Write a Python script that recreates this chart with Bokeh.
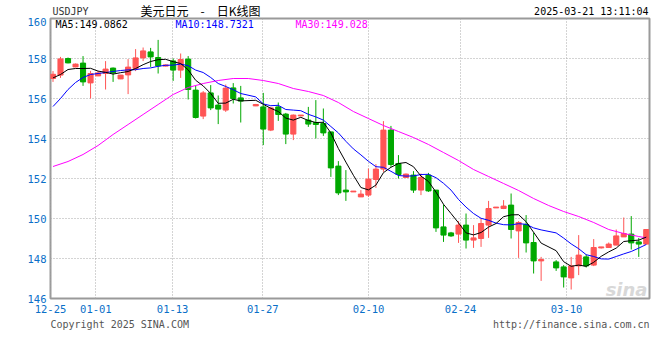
from bokeh.plotting import figure
from bokeh.layouts import column
from bokeh.models import FixedTicker, Label, ColumnDataSource, Range1d
from bokeh.embed import file_html
from bokeh.resources import INLINE

# ---- data ----
slots = [0, 1, 2, 3, 4, 5, 6, 7, 8, 9, 10, 11, 12, 13, 14, 15, 16, 17, 18, 19,
         20, 21, 22, 23, 24, 25, 27, 28, 29, 30, 31, 32, 33, 34, 35, 36, 37, 38,
         39, 40, 41, 42, 43, 44, 45, 46, 47, 48, 49, 50, 51, 52, 53, 54, 55, 56,
         57, 58, 59, 60, 61, 62, 63, 64, 65, 67, 68, 69, 70, 71, 72, 73, 74, 75,
         76, 77, 78, 79]
opens = [157.00, 157.17, 158.00, 157.58, 157.77, 156.78, 157.13, 157.25, 157.52, 156.98,
         157.18, 157.50, 158.03, 158.33, 158.05, 157.62, 157.88, 157.42, 157.97, 156.42,
         155.12, 156.28, 155.67, 155.42, 156.53, 156.03, 155.63, 155.58, 154.42, 155.58,
         155.22, 154.22, 155.13, 154.92, 154.80, 154.75, 154.33, 152.62, 151.42, 151.33,
         151.08, 151.17, 151.95, 152.47, 154.42, 152.75, 152.05, 152.17, 151.42, 152.17,
         151.42, 149.58, 149.28, 149.22, 149.67, 148.92, 149.00, 149.67, 150.53, 150.50,
         150.67, 149.38, 149.70, 148.80, 147.88, 147.83, 147.58, 147.03, 147.63, 148.08,
         147.67, 148.53, 148.55, 148.67, 149.08, 149.22, 148.83, 148.72]
highs = [157.37, 158.08, 158.05, 157.75, 158.12, 157.38, 157.38, 157.87, 157.55, 157.18,
         157.97, 158.47, 158.55, 158.53, 158.93, 157.70, 158.00, 158.25, 158.12, 156.63,
         156.37, 156.67, 156.15, 156.70, 156.77, 156.63, 155.73, 156.28, 155.58, 155.80,
         155.28, 155.20, 155.17, 155.58, 155.92, 155.50, 154.33, 152.87, 152.42, 151.37,
         151.42, 152.50, 152.72, 154.87, 154.63, 153.17, 152.25, 152.37, 152.25, 152.28,
         151.42, 150.70, 149.33, 149.87, 150.25, 149.67, 150.00, 150.88, 150.57, 150.92,
         151.25, 149.87, 150.17, 149.30, 148.08, 147.92, 147.67, 148.08, 149.17, 148.20,
         148.97, 148.58, 148.80, 149.45, 150.05, 150.12, 149.03, 149.45]
lows = [156.83, 157.03, 157.76, 157.56, 156.63, 156.00, 157.12, 156.45, 156.83, 156.97,
        156.22, 157.37, 157.87, 157.58, 157.25, 157.60, 156.88, 157.03, 155.95, 155.00,
        154.97, 155.42, 154.72, 155.33, 155.75, 154.80, 155.62, 153.67, 154.37, 154.88,
        153.72, 153.92, 155.13, 154.58, 154.00, 154.13, 152.08, 151.17, 150.88, 151.33,
        151.08, 151.08, 151.53, 152.33, 152.58, 152.00, 152.05, 151.28, 151.17, 151.33,
        149.33, 148.83, 149.08, 148.78, 148.50, 148.53, 148.58, 149.03, 150.53, 150.47,
        149.00, 148.03, 148.30, 147.25, 146.88, 147.38, 146.55, 146.45, 147.17, 147.55,
        147.62, 148.50, 148.55, 148.67, 149.08, 148.45, 148.08, 148.70]
closes = [157.21, 157.98, 157.78, 157.72, 156.83, 157.25, 157.28, 157.47, 157.28, 157.17,
          157.57, 158.03, 158.38, 158.08, 157.63, 157.68, 157.42, 157.95, 156.45, 155.05,
          156.28, 155.53, 155.47, 156.52, 156.00, 155.87, 155.70, 154.47, 155.53, 155.20,
          154.22, 155.17, 155.17, 154.72, 154.70, 154.28, 152.53, 151.28, 151.33, 151.37,
          151.22, 151.97, 152.47, 154.42, 152.70, 152.20, 152.22, 151.42, 152.05, 151.38,
          149.53, 149.17, 149.13, 149.67, 148.92, 149.03, 149.75, 150.50, 150.57, 150.62,
          149.45, 149.80, 148.78, 147.88, 147.95, 147.53, 147.08, 147.63, 148.17, 147.63,
          148.55, 148.58, 148.72, 149.13, 149.25, 148.78, 148.72, 149.45]
ma5 = [157.03, 157.20, 157.45, 157.50, 157.50, 157.51, 157.37, 157.31, 157.22, 157.29,
       157.35, 157.50, 157.69, 157.85, 157.94, 157.96, 157.84, 157.75, 157.43, 156.91,
       156.63, 156.25, 155.76, 155.77, 155.96, 155.88, 155.91, 155.71, 155.51, 155.35,
       155.02, 154.92, 155.06, 154.90, 154.80, 154.81, 154.28, 153.50, 152.82, 152.16,
       151.55, 151.43, 151.67, 152.29, 152.56, 152.75, 152.80, 152.59, 152.12, 151.85,
       151.32, 150.71, 150.25, 149.78, 149.28, 149.18, 149.30, 149.57, 149.75, 150.09,
       150.18, 150.19, 149.84, 149.31, 148.77, 148.39, 147.84, 147.61, 147.67, 147.61,
       147.81, 148.11, 148.33, 148.52, 148.85, 148.89, 148.92, 149.07]
ma10 = [155.60, 156.00, 156.45, 156.80, 157.05, 157.20, 157.25, 157.30, 157.35, 157.40,
        157.43, 157.44, 157.50, 157.53, 157.61, 157.66, 157.67, 157.72, 157.64, 157.42,
        157.30, 157.05, 156.75, 156.60, 156.44, 156.25, 156.08, 155.73, 155.64, 155.66,
        155.45, 155.42, 155.39, 155.21, 155.08, 154.92, 154.60, 154.28, 153.86, 153.48,
        153.18, 152.86, 152.59, 152.56, 152.36, 152.15, 152.12, 152.13, 152.20, 152.21,
        152.04, 151.76, 151.42, 150.95, 150.57, 150.25, 150.01, 149.91, 149.77, 149.69,
        149.68, 149.74, 149.71, 149.53, 149.43, 149.28, 149.02, 148.73, 148.49, 148.19,
        148.10, 147.98, 147.97, 148.10, 148.23, 148.35, 148.52, 148.70]
ma30_slots = [0, 2, 4, 6, 8, 10, 12, 14, 16, 18, 20, 22, 24, 26, 28, 30, 32, 34, 36, 38,
              40, 42, 44, 46, 48, 50, 52, 54, 56, 58, 60, 62, 64, 66, 68, 70, 72, 74, 76,
              78, 79]
ma30 = [152.60, 152.85, 153.20, 153.65, 154.20, 154.70, 155.20, 155.70, 156.20, 156.55,
        156.75, 156.90, 157.00, 157.00, 156.90, 156.75, 156.50, 156.35, 156.15, 155.80,
        155.35, 155.00, 154.65, 154.35, 154.05, 153.70, 153.30, 152.90, 152.45, 152.10,
        151.75, 151.40, 151.00, 150.65, 150.35, 150.10, 149.80, 149.45, 149.25, 149.10,
        149.03]
tick_pos = [-0.33, 5.71, 15.93, 27.93, 42.03, 54.28, 68.39]
tick_labels = ["12-25", "01-01", "01-13", "01-27", "02-10", "02-24", "03-10"]
y_ticks = [146, 148, 150, 152, 154, 156, 158, 160]

UP = "#FF5555"
DOWN = "#00A800"
MONO = "DejaVu Sans Mono"
W = 660
FRAME_LEFT = 50  # the column layout aligns every strip's frame with the chart's frame


def lab(fig, x, y, text, color="#000000", size="10px", align="left", font=MONO,
        style="normal"):
    fig.add_layout(Label(x=x, y=y, x_units="screen", y_units="screen", text=text,
                         text_color=color, text_font_size=size, text_align=align,
                         text_baseline="middle", text_font=font, text_font_style=style))


def blank(height):
    f = figure(width=W, height=height, output_backend="svg", toolbar_location=None,
               x_axis_type=None, y_axis_type=None,
               x_range=Range1d(0, 1), y_range=Range1d(0, 1),
               min_border_left=FRAME_LEFT, min_border_right=11,
               min_border_top=0, min_border_bottom=0)
    f.outline_line_color = None
    f.background_fill_color = "white"
    f.border_fill_color = "white"
    f.grid.visible = False
    return f


# ---- header strip (17 px) ----
HEAD_H = 17
head = blank(HEAD_H)
lab(head, 52 - FRAME_LEFT, HEAD_H - 11, "USDJPY", "#333333")
lab(head, 200 - FRAME_LEFT, HEAD_H - 9.5, "美元日元\u3000-\u3000日K线图", "#000000", "12px",
    "center", "Noto Sans CJK SC")
lab(head, 648 - FRAME_LEFT, HEAD_H - 11, "2025-03-21 13:11:04", "#000000", align="right")

# ---- main chart ----
colors = [UP if c >= o else DOWN for o, c in zip(opens, closes)]
src = ColumnDataSource(dict(
    x=slots, o=opens, h=highs, l=lows, c=closes,
    top=[max(o, c) for o, c in zip(opens, closes)],
    bot=[min(o, c) for o, c in zip(opens, closes)],
    color=colors,
))

MAIN_H = 299  # covers y 17 .. 316 of the page
p = figure(width=W, height=MAIN_H, output_backend="svg", toolbar_location=None,
           x_range=Range1d(-0.333, 79.43), y_range=Range1d(146, 160),
           min_border_left=FRAME_LEFT, min_border_right=11, min_border_top=1,
           min_border_bottom=18)
p.background_fill_color = "white"
p.border_fill_color = "white"
p.outline_line_color = "#9A9A9A"
p.outline_line_width = 2

p.yaxis.ticker = FixedTicker(ticks=y_ticks)
p.xaxis.ticker = FixedTicker(ticks=tick_pos)
p.xaxis.major_label_overrides = {t: s for t, s in zip(tick_pos, tick_labels)}
for ax in (p.xaxis[0], p.yaxis[0]):
    ax.axis_line_color = None
    ax.major_tick_line_color = None
    ax.minor_tick_line_color = None
    ax.major_tick_in = 0
    ax.major_tick_out = 0
    ax.major_label_text_color = "#0A6FC8"
    ax.major_label_text_font = MONO
    ax.major_label_text_font_size = "10.5px"
p.xaxis.major_label_standoff = 6
p.yaxis.major_label_standoff = 4

for g in (p.xgrid[0], p.ygrid[0]):
    g.grid_line_color = "#A8A8A8"
    g.grid_line_dash = "1 2"
    g.grid_line_width = 1

p.segment(x0="x", y0="h", x1="x", y1="l", source=src, line_color="color", line_width=1)
p.vbar(x="x", width=0.68, top="top", bottom="bot", source=src,
       fill_color="color", line_color="color", line_width=1)

p.line(slots, ma10, line_color="#0000FF", line_width=1)
p.line(ma30_slots, ma30, line_color="#FF00FF", line_width=1)
p.line(slots, ma5, line_color="#000000", line_width=1)

lab(p, 5, 274, "MA5:149.0862", "#000000")
lab(p, 125, 274, "MA10:148.7321", "#0000FF")
lab(p, 245, 274, "MA30:149.028", "#FF00FF")
lab(p, 597, 9, "sina", "#D8D8D8", "18px", "right", "DejaVu Sans", "bold italic")

# ---- footer strip ----
FOOT_H = 360 - HEAD_H - MAIN_H
foot = blank(FOOT_H)
lab(foot, 50 - FRAME_LEFT, FOOT_H - 8, "Copyright 2025 SINA.COM", "#555555")
lab(foot, 649 - FRAME_LEFT, FOOT_H - 8, "http://finance.sina.com.cn", "#555555",
    align="right")

layout = column(head, p, foot, spacing=0)
open("out.html", "w").write(file_html(layout, INLINE))
